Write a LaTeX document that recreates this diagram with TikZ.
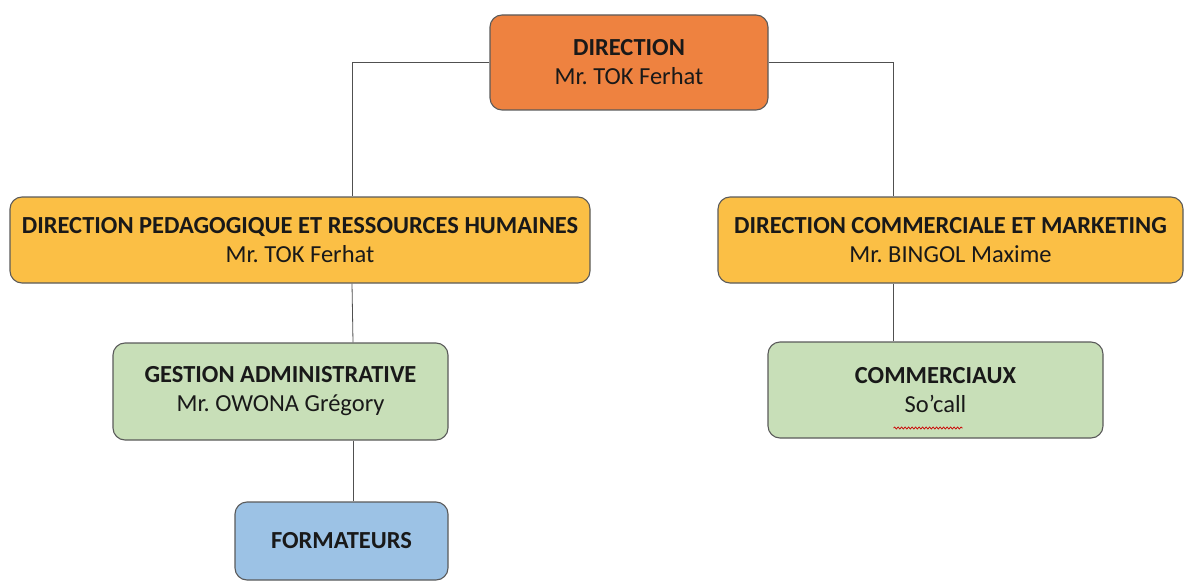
\documentclass[tikz,border=0pt]{standalone}
\usepackage{fontspec}
\setmainfont{Carlito}
\frenchspacing
\usetikzlibrary{decorations.pathmorphing}
\definecolor{cOrange}{HTML}{EE8240}
\definecolor{cYellow}{HTML}{FBBF45}
\definecolor{cGreen}{HTML}{C8DFB8}
\definecolor{cBlue}{HTML}{9CC2E5}
\definecolor{cEdge}{HTML}{5A5A5A}
\definecolor{cLine}{HTML}{505050}
\tikzset{
  box/.style={draw=cEdge, line width=1.1pt, rounded corners=12pt, align=center,
    inner sep=0pt, font=\fontsize{24.5}{29}\selectfont, text=black!90},
  link/.style={draw=cLine, line width=0.8pt},
}
\begin{document}
\begin{tikzpicture}[x=1pt,y=-1pt]
\useasboundingbox (0,0) rectangle (1194,583);
\node[box, fill=cOrange, minimum width=278pt, minimum height=95pt] (dir) at (629,62.5)
  {\textbf{DIRECTION}\\Mr. TOK Ferhat};
\node[box, fill=cYellow, minimum width=580pt, minimum height=86pt] (dped) at (300,240)
  {\textbf{DIRECTION PEDAGOGIQUE ET RESSOURCES HUMAINES}\\Mr. TOK Ferhat};
\node[box, fill=cYellow, minimum width=465pt, minimum height=86pt] (dcom) at (950.5,240)
  {\textbf{DIRECTION COMMERCIALE ET MARKETING}\\Mr. BINGOL Maxime};
\node[box, fill=cGreen, minimum width=335pt, minimum height=97pt] (gest) at (280.5,391.5)
  {\textbf{GESTION ADMINISTRATIVE}\\Mr. OWONA Grégory};
\node[box, fill=cBlue, minimum width=213pt, minimum height=78pt] (form) at (341.5,541)
  {\textbf{FORMATEURS}};
\node[box, fill=cGreen, minimum width=335pt, minimum height=96pt] (comm) at (935.5,390)
  {\textbf{COMMERCIAUX}\\So’call};
\draw[red!80!black, line width=0.7pt, decorate, decoration={snake, amplitude=1pt, segment length=3.5pt}]
  ([shift={(-42,38)}]comm.center) -- ([shift={(27,38)}]comm.center);
\draw[link] (dir.west) -| ([xshift=52pt]dped.north);
\draw[link] (dir.east) -| ([xshift=-57.5pt]dcom.north);
\draw[link] ([xshift=52pt]dped.south) -- ([xshift=72.5pt]gest.north);
\draw[link] ([xshift=72.5pt]gest.south) -- ([xshift=11.5pt]form.north);
\draw[link] ([xshift=-57.5pt]dcom.south) -- ([xshift=-42.5pt]comm.north);
\end{tikzpicture}
\end{document}
